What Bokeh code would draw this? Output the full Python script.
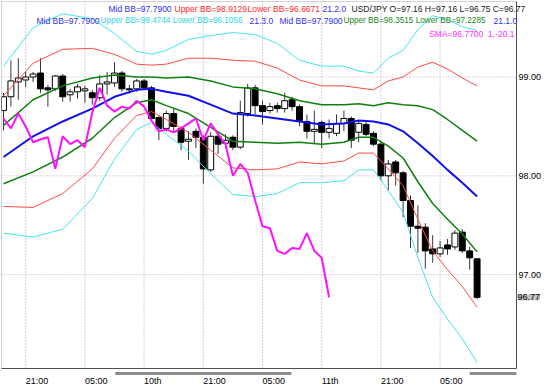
from bokeh.plotting import figure
from bokeh.models import Range1d, Label, ColumnDataSource
from bokeh.embed import file_html
from bokeh.resources import INLINE

# ---------------- data (hourly USD/JPY candles) -------------
opens = [98.66, 98.80, 98.95, 98.97, 99.00, 99.04, 98.89, 98.88, 99.01, 98.82,
         98.85, 98.86, 98.84, 98.79, 98.93, 98.94, 99.04, 98.88, 98.88, 98.96,
         98.89, 98.59, 98.48, 98.63, 98.48, 98.35, 98.45, 98.39, 98.06, 98.40,
         98.33, 98.39, 98.29, 98.63, 98.89, 98.71, 98.66, 98.71, 98.68, 98.77,
         98.70, 98.55, 98.45, 98.54, 98.44, 98.43, 98.53, 98.58, 98.44, 98.52,
         98.43, 98.32, 98.00, 98.14, 98.03, 97.75, 97.49, 97.48, 97.26, 97.21,
         97.30, 97.28, 97.43, 97.24, 97.16]
highs = [98.84, 99.17, 99.19, 99.05, 99.05, 99.19, 98.92, 99.02, 99.03, 98.88,
         98.93, 98.91, 98.87, 99.02, 99.05, 99.15, 99.06, 98.92, 98.98, 98.98,
         98.91, 98.61, 98.66, 98.68, 98.50, 98.45, 98.48, 98.41, 98.44, 98.45,
         98.42, 98.41, 98.76, 98.93, 98.92, 98.76, 98.74, 98.74, 98.84, 98.80,
         98.72, 98.62, 98.66, 98.56, 98.57, 98.62, 98.66, 98.60, 98.56, 98.56,
         98.45, 98.34, 98.16, 98.16, 98.05, 97.80, 97.70, 97.52, 97.40, 97.34,
         97.36, 97.45, 97.46, 97.28, 97.16]
lows = [98.46, 98.70, 98.77, 98.90, 98.95, 98.84, 98.70, 98.86, 98.75, 98.75,
        98.78, 98.74, 98.72, 98.76, 98.82, 98.90, 98.85, 98.83, 98.85, 98.87,
        98.56, 98.36, 98.45, 98.45, 98.26, 98.16, 98.28, 97.92, 98.04, 98.22,
        98.28, 98.26, 98.27, 98.60, 98.62, 98.52, 98.63, 98.64, 98.64, 98.66,
        98.50, 98.38, 98.32, 98.28, 98.38, 98.40, 98.45, 98.28, 98.34, 98.40,
        98.30, 97.95, 97.85, 97.90, 97.58, 97.27, 97.22, 97.06, 97.12, 97.18,
        97.20, 97.25, 97.22, 97.05, 96.75]
closes = [98.80, 98.96, 98.99, 99.00, 99.03, 98.88, 98.87, 99.01, 98.80, 98.85,
          98.90, 98.88, 98.79, 98.93, 98.95, 99.04, 98.88, 98.87, 98.96, 98.89,
          98.58, 98.48, 98.63, 98.50, 98.34, 98.37, 98.39, 98.07, 98.40, 98.32,
          98.36, 98.29, 98.64, 98.89, 98.71, 98.65, 98.70, 98.68, 98.76, 98.70,
          98.56, 98.45, 98.47, 98.44, 98.48, 98.53, 98.58, 98.36, 98.53, 98.42,
          98.32, 98.00, 98.12, 98.03, 97.75, 97.49, 97.47, 97.24, 97.21, 97.27,
          97.26, 97.42, 97.24, 97.17, 96.77]

# SMA(1) shifted -20 bars (magenta line), bars 0..44
sma_shift = [98.58, 98.48, 98.63, 98.50, 98.34, 98.37, 98.39, 98.07, 98.40, 98.32,
             98.36, 98.29, 98.64, 98.89, 98.71, 98.65, 98.70, 98.68, 98.76, 98.70,
             98.56, 98.45, 98.47, 98.44, 98.48, 98.53, 98.58, 98.36, 98.53, 98.42,
             98.32, 98.00, 98.12, 98.03, 97.75, 97.49, 97.47, 97.24, 97.21, 97.27,
             97.26, 97.42, 97.24, 97.17, 96.77]

# Bollinger band curves (21), read at these bar indices
bb_idx = [0, 4, 8, 12, 15, 18, 20, 22, 25, 28, 31, 34, 37, 40, 43, 46, 48, 50, 52,
          54, 56, 58, 60, 62, 64]
bb_mid = [98.19, 98.40, 98.55, 98.68, 98.80, 98.87, 98.88, 98.85, 98.81, 98.72, 98.63,
          98.61, 98.58, 98.55, 98.52, 98.53, 98.56, 98.55, 98.52, 98.45, 98.33, 98.20,
          98.06, 97.93, 97.79]
bb_up1 = [98.51, 98.77, 98.91, 98.99, 99.02, 99.00, 99.00, 98.99, 99.00, 98.96, 98.90,
          98.88, 98.83, 98.76, 98.72, 98.72, 98.73, 98.71, 98.74, 98.72, 98.71, 98.67,
          98.57, 98.46, 98.35]
bb_lo1 = [97.92, 98.04, 98.19, 98.38, 98.59, 98.74, 98.77, 98.71, 98.63, 98.49, 98.35,
          98.34, 98.33, 98.34, 98.32, 98.34, 98.39, 98.39, 98.30, 98.18, 97.94, 97.72,
          97.56, 97.41, 97.23]
bb_up2 = [98.81, 99.14, 99.28, 99.29, 99.23, 99.13, 99.12, 99.13, 99.19, 99.19, 99.17,
          99.16, 99.09, 98.97, 98.91, 98.91, 98.89, 98.87, 98.96, 99.00, 99.10, 99.15,
          99.08, 98.99, 98.91]
bb_lo2 = [97.69, 97.68, 97.82, 98.07, 98.38, 98.61, 98.65, 98.57, 98.44, 98.26, 98.08,
          98.06, 98.07, 98.14, 98.12, 98.15, 98.23, 98.23, 98.07, 97.90, 97.56, 97.24,
          97.05, 96.88, 96.67]
bb_up3 = [99.11, 99.50, 99.64, 99.59, 99.44, 99.26, 99.23, 99.27, 99.38, 99.42, 99.45,
          99.43, 99.34, 99.17, 99.11, 99.11, 99.06, 99.04, 99.19, 99.27, 99.48, 99.62,
          99.58, 99.51, 99.47]
bb_lo3 = [97.42, 97.38, 97.46, 97.77, 98.17, 98.47, 98.54, 98.42, 98.25, 98.02, 97.81,
          97.79, 97.82, 97.93, 97.93, 97.95, 98.06, 98.06, 97.85, 97.63, 97.17, 96.77,
          96.55, 96.35, 96.11]

# time axis
grid_idx = [3, 11, 19, 27, 35, 43, 51, 59]
grid_labels = ["21:00", "05:00", "10th", "21:00", "05:00", "11th", "21:00", "05:00"]
day_starts = [15.1, 63.0]
day_ends = [38.9, 69.3]
price_ticks = [97, 98, 99]
last_price = 96.77

# ---------------- layout helpers (reference pixel -> data) ----------------
def px_x(px):
    return (px - 3.0) / 7.4

def px_y(py):
    return 99.0 - (py - 76.5) / 98.8

X_LEFT, X_BOX, X_RIGHT = px_x(1), px_x(516), px_x(550)
Y_TOP, Y_BOX, Y_BOTTOM = px_y(1), px_y(368), px_y(387)

p = figure(frame_width=549, frame_height=386, output_backend="svg",
           toolbar_location=None, x_range=Range1d(X_LEFT, X_RIGHT),
           y_range=Range1d(Y_BOTTOM, Y_TOP), x_axis_location=None,
           y_axis_location=None, min_border_left=1, min_border_top=1,
           min_border_right=0, min_border_bottom=0)
p.outline_line_color = None
p.xgrid.visible = False
p.ygrid.visible = False
p.background_fill_color = "white"
p.border_fill_color = "white"

# grid lines
n = len(grid_idx)
p.segment(x0=grid_idx, y0=[Y_BOX] * n, x1=grid_idx, y1=[Y_TOP] * n,
          line_color="#b09cc4", line_width=1, line_dash="1 2")
p.segment(x0=[X_LEFT] * 3, y0=price_ticks, x1=[X_BOX] * 3, y1=price_ticks,
          line_color="#cfa4bf", line_width=1, line_dash="1 2")

# candles
idx = list(range(len(closes)))
src = ColumnDataSource(dict(
    x=idx, h=highs, l=lows,
    top=[max(o, c) for o, c in zip(opens, closes)],
    bot=[min(o, c) for o, c in zip(opens, closes)],
    fill=["white" if c >= o else "black" for o, c in zip(opens, closes)],
))
p.segment(x0="x", y0="h", x1="x", y1="l", source=src, line_color="#383838",
          line_width=1)
p.vbar(x="x", width=0.8, top="top", bottom="bot", source=src,
       fill_color="fill", line_color="black", line_width=1)

# bands
p.line(bb_idx, bb_up3, line_color="#44e4ee", line_width=1)
p.line(bb_idx, bb_lo3, line_color="#44e4ee", line_width=1)
p.line(bb_idx, bb_up2, line_color="#ff4a4a", line_width=1)
p.line(bb_idx, bb_lo2, line_color="#ff4a4a", line_width=1)
p.line(bb_idx, bb_up1, line_color="#108010", line_width=1.5)
p.line(bb_idx, bb_lo1, line_color="#108010", line_width=1.5)
p.line(bb_idx, bb_mid, line_color="#1010f0", line_width=2)
p.line(list(range(len(sma_shift))), sma_shift, line_color="#ff10ff", line_width=2)

# day bars under the box
p.quad(left=day_starts, right=day_ends,
       top=[px_y(371.5)] * 2, bottom=[px_y(374.5)] * 2,
       fill_color="#8c8c8c", line_color=None)

# box border
p.quad(left=[px_x(0.5)], right=[X_BOX], top=[px_y(0.5)], bottom=[Y_BOX],
       fill_color=None, line_color="#505050", line_width=1)

# tick labels
TICK_FONT = "Liberation Sans"
for g, t in zip(grid_idx, grid_labels):
    p.add_layout(Label(x=g, y=px_y(380), text=t, text_font=TICK_FONT,
                       text_font_size="9px", text_baseline="middle",
                       text_align="left", text_color="black"))
for v in price_ticks:
    p.add_layout(Label(x=px_x(518), y=v, text=f"{v:.2f}", text_font=TICK_FONT,
                       text_font_size="9px", text_baseline="middle",
                       text_color="black"))

# last price box
p.add_layout(Label(x=px_x(517), y=last_price, text=f"{last_price:.2f}",
                   text_font=TICK_FONT, text_font_size="9px",
                   text_baseline="middle", text_color="black",
                   background_fill_color="#c4c4c4"))

# legend texts
FONT = "Liberation Sans"
texts = [
    (108, 8, "Mid BB=97.7900", "#3030f0", "8.5px"),
    (174, 8, "Upper BB=98.9129", "#ff2a2a", "8.5px"),
    (247, 8, "Lower BB=96.6671", "#ff2a2a", "8.5px"),
    (322, 8, "21.2.0", "#3030f0", "8.5px"),
    (351, 8, "USD/JPY O=97.16 H=97.16 L=96.75 C=96.77", "#202020", "8.5px"),
    (36, 20, "Mid BB=97.7900", "#3030f0", "8.5px"),
    (100, 20, "Upper BB=99.4744 Lower BB=96.1056", "#2cd6e0", "8.2px"),
    (249, 20, "21.3.0", "#3030f0", "8.5px"),
    (279, 20, "Mid BB=97.7900", "#3030f0", "8.5px"),
    (343, 20, "Upper BB=98.3515 Lower BB=97.2285", "#208a20", "8.2px"),
    (493, 20, "21.1.0", "#3030f0", "8.5px"),
]
for xp, yp, t, col, fs in texts:
    p.add_layout(Label(x=px_x(xp), y=px_y(yp), text=t, text_color=col,
                       text_font=FONT, text_font_size=fs,
                       text_baseline="middle"))
p.add_layout(Label(x=px_x(514), y=px_y(33), text="SMA=96.7700 \u00a01,-20.1",
                   text_color="#ff30ff", text_font=FONT, text_font_size="8.5px",
                   text_baseline="middle", text_align="right"))

open("out.html", "w").write(file_html(p, INLINE))
